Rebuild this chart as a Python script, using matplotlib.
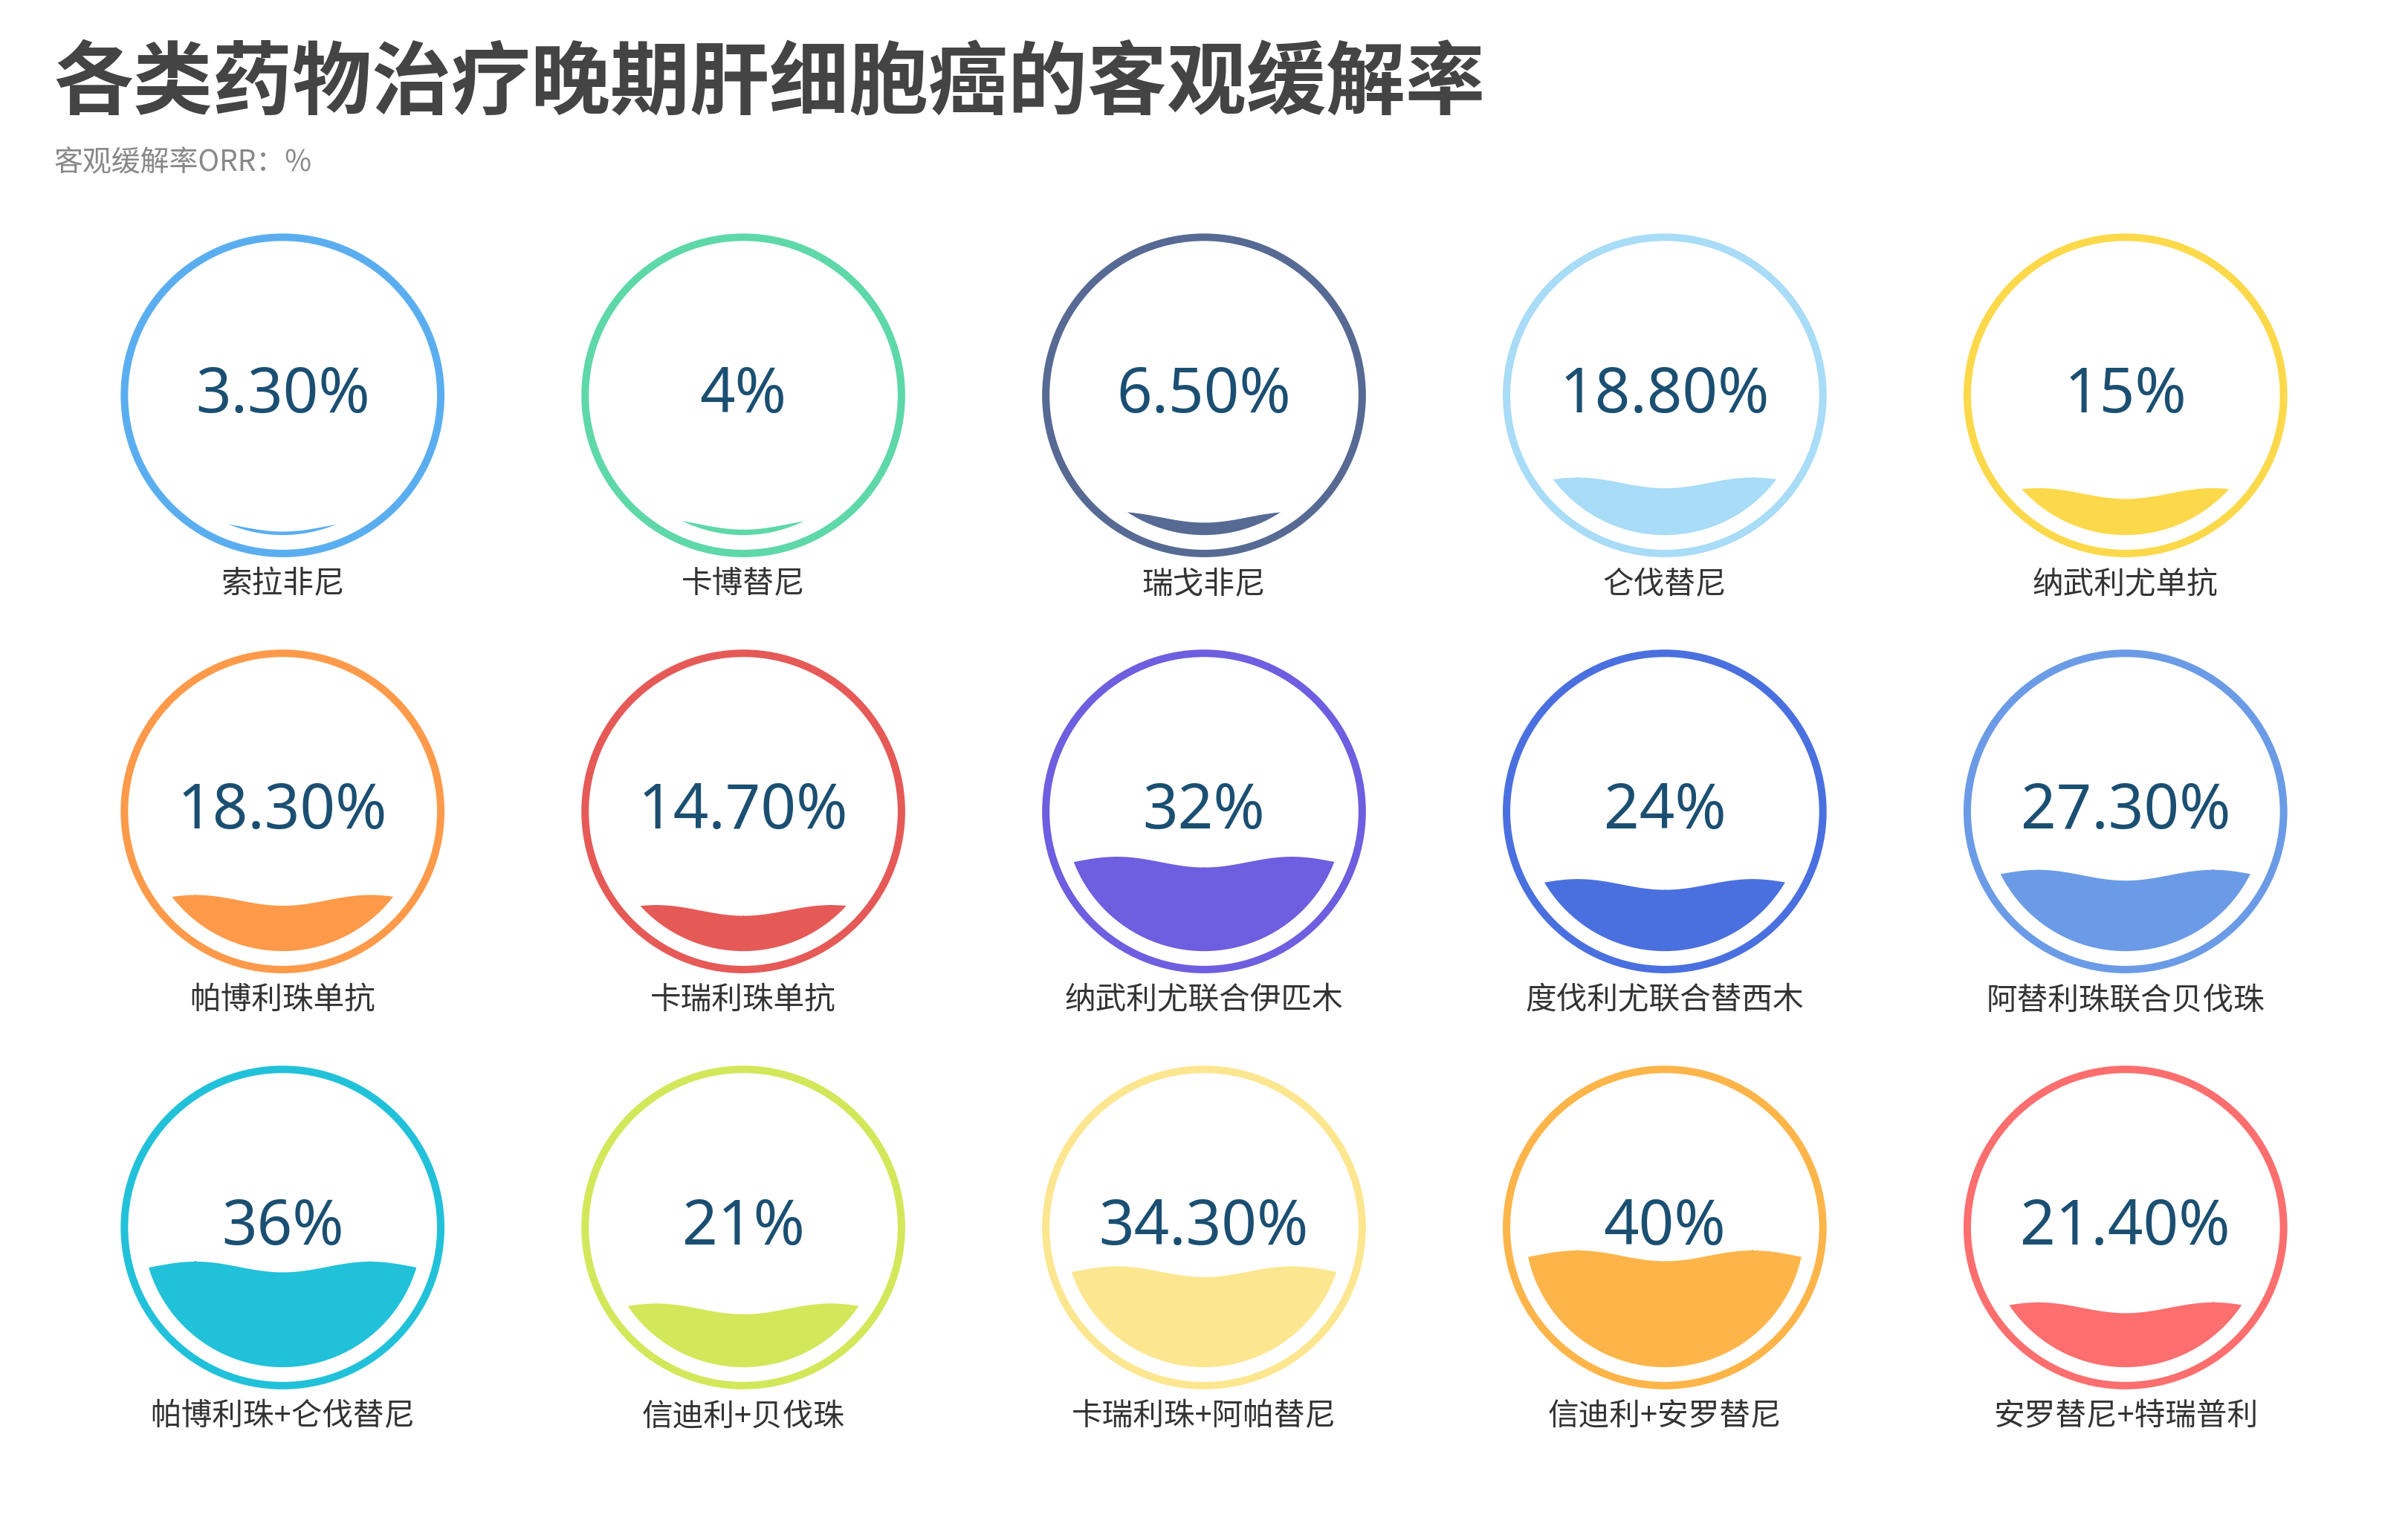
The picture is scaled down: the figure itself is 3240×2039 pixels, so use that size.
import numpy as np
import matplotlib
matplotlib.use("Agg")
import matplotlib.pyplot as plt
from matplotlib.patches import Circle

plt.rcParams['font.family'] = ['Noto Sans CJK SC', 'DejaVu Sans']

names = ["索拉非尼", "卡博替尼", "瑞戈非尼", "仑伐替尼", "纳武利尤单抗",
         "帕博利珠单抗", "卡瑞利珠单抗", "纳武利尤联合伊匹木", "度伐利尤联合替西木", "阿替利珠联合贝伐珠",
         "帕博利珠+仑伐替尼", "信迪利+贝伐珠", "卡瑞利珠+阿帕替尼", "信迪利+安罗替尼", "安罗替尼+特瑞普利"]
values = [3.3, 4, 6.5, 18.8, 15, 18.3, 14.7, 32, 24, 27.3, 36, 21, 34.3, 40, 21.4]
value_labels = ["3.30%", "4%", "6.50%", "18.80%", "15%", "18.30%", "14.70%", "32%", "24%",
                "27.30%", "36%", "21%", "34.30%", "40%", "21.40%"]
colors = ["#5aaef0", "#5ed8a8", "#566a93", "#a8dcf7", "#fcd94a",
          "#fe9a4a", "#e55a57", "#6e5ee0", "#4a70e0", "#6b9be6",
          "#22c1da", "#d2e85a", "#fde690", "#fdb54a", "#fd6e6e"]

W = 1568
H = W * 2040 / 3240
fig = plt.figure(figsize=(16.2, 10.2), dpi=200)
ax = fig.add_axes([0, 0, 1, 1])
ax.set_xlim(0, W)
ax.set_ylim(H, 0)
ax.axis('off')

fig.text(35 / W, 1 - 55 / H, "各类药物治疗晚期肝细胞癌的客观缓解率", fontsize=38.5, fontweight='bold',
         color='#444444', va='center', ha='left')
fig.text(35 / W, 1 - 106 / H, "客观缓解率ORR：%", fontsize=14, color='#888888', va='center', ha='left')

xs = [184, 484, 784, 1084, 1384]
ys = [258, 529, 800]
R, r = 103, 91
for i, (nm, v, lab, c) in enumerate(zip(names, values, value_labels, colors)):
    cx, cy = xs[i % 5], ys[i // 5]
    ax.add_patch(Circle((cx, cy), R, fill=False, lw=3.6, ec=c))
    clip = Circle((cx, cy), r, transform=ax.transData, fill=False, lw=0)
    ax.add_patch(clip)
    xx = np.linspace(cx - r, cx + r, 300)
    level = cy + r - 2 * r * v / 100
    wave = level + 3.5 * np.cos((xx - cx) / r * 1.6 * np.pi)
    poly = ax.fill_between(xx, wave, cy + r + 5, color=c, lw=0)
    poly.set_clip_path(clip)
    ax.text(cx, cy, lab, fontsize=30, color='#1b4f72', ha='center', va='center',
            family=['Noto Sans', 'DejaVu Sans'])
    ax.text(cx, cy + 123, nm, fontsize=15, color='#333333', ha='center', va='center')

fig.savefig("out.png", dpi=200, facecolor='white')
